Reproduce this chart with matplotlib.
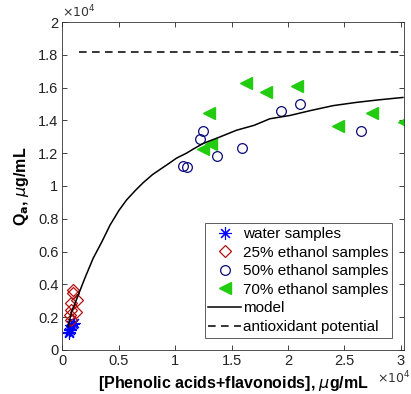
import numpy as np
import matplotlib.pyplot as plt
from matplotlib.ticker import FuncFormatter, MultipleLocator

plt.rcParams['font.family'] = ['Liberation Sans', 'DejaVu Sans']
plt.rcParams['mathtext.fontset'] = 'dejavusans'

# values, in ug/mL
water_x = [550, 600, 650, 700, 800, 900, 1000]
water_y = [1000, 1100, 1200, 1300, 1500, 1600, 1650]

eth25_x = [960, 950, 800, 1300, 730, 660, 800, 1200]
eth25_y = [3660, 3500, 2850, 3050, 2440, 2130, 1800, 2330]

eth50_x = [10660, 11070, 12190, 12480, 13720, 15940, 19370, 21050, 26520]
eth50_y = [11240, 11180, 12850, 13370, 11850, 12340, 14570, 15000, 13370]

eth70_x = [16240, 18100, 20850, 13020, 13160, 12430, 24450, 27470, 30270]
eth70_y = [16280, 15730, 16100, 14430, 12560, 12240, 13660, 14470, 13920]

model_x = [500, 800, 1260, 2000, 2730, 3500, 4210, 5000, 5690, 6500, 7160,
           8000, 8640, 9500, 10120, 11000, 11600, 12500, 14000, 15440,
           17000, 18400, 20170, 22000, 24000, 26080, 28000, 30200]
model_y = [1400, 2300, 3100, 4400, 5600, 6600, 7600, 8500, 9150, 9750, 10200,
           10700, 11000, 11400, 11700, 12000, 12250, 12600, 13000, 13400,
           13700, 14100, 14300, 14600, 14900, 15100, 15250, 15400]

potential_x = [1460, 30300]
potential_y = [18200, 18200]

fig = plt.figure(figsize=(4.11, 3.94), dpi=100)
ax = fig.add_axes([0.152, 0.112, 0.831, 0.832])

ax.plot(water_x, water_y, linestyle='none', marker=(8, 2, 0), markersize=9,
        markeredgecolor='#0000ff', markeredgewidth=0.8, label='water samples')
ax.plot(eth25_x, eth25_y, linestyle='none', marker='D', markersize=6.5,
        markerfacecolor='none', markeredgecolor='#b01010', markeredgewidth=0.9,
        label='25% ethanol samples')
ax.plot(eth50_x, eth50_y, linestyle='none', marker='o', markersize=7,
        markerfacecolor='none', markeredgecolor='#0a0a7a', markeredgewidth=0.9,
        label='50% ethanol samples')
ax.plot(eth70_x, eth70_y, linestyle='none', marker='<', markersize=8,
        color='#22cc11', label='70% ethanol samples')
ax.plot(model_x, model_y, color='black', lw=1.1, label='model')
ax.plot(potential_x, potential_y, color='black', lw=1.1, ls=(0, (5, 3.5)),
        label='antioxidant potential')

ax.set_xlim(0, 30300)
ax.set_ylim(0, 20000)
ax.xaxis.set_major_locator(MultipleLocator(5000))
ax.yaxis.set_major_locator(MultipleLocator(2000))
fmt = FuncFormatter(lambda v, p: f"{v / 1e4:g}")
ax.xaxis.set_major_formatter(fmt)
ax.yaxis.set_major_formatter(fmt)
ax.tick_params(direction='in', top=True, right=True, labelsize=10.5,
               length=3.5, width=0.6, pad=3, colors='#222222')
for s in ax.spines.values():
    s.set_linewidth(0.6)
    s.set_color('#333333')

ax.text(0.0, 1.005, r'$\times10^4$', transform=ax.transAxes, fontsize=9,
        ha='left', va='bottom', color='#333333')
ax.text(1.02, -0.085, r'$\times10^4$', transform=ax.transAxes, fontsize=9,
        ha='right', va='center', color='#333333')

ax.set_xlabel(r'[Phenolic acids+flavonoids], $\mu$g/mL', fontsize=11.5,
              fontweight='bold', labelpad=4)
ax.set_ylabel(r'Q$_\mathbf{a}$, $\mu$g/mL', fontsize=11.5, fontweight='bold',
              labelpad=5)

leg = ax.legend(loc='lower right', bbox_to_anchor=(0.965, 0.037), fontsize=11,
                frameon=True, fancybox=False, edgecolor='#333333',
                handlelength=2.15, handletextpad=0.1, borderpad=0.25,
                labelspacing=0.3, borderaxespad=0.0)
leg.get_frame().set_linewidth(0.7)

fig.savefig('out.png', dpi=100)
